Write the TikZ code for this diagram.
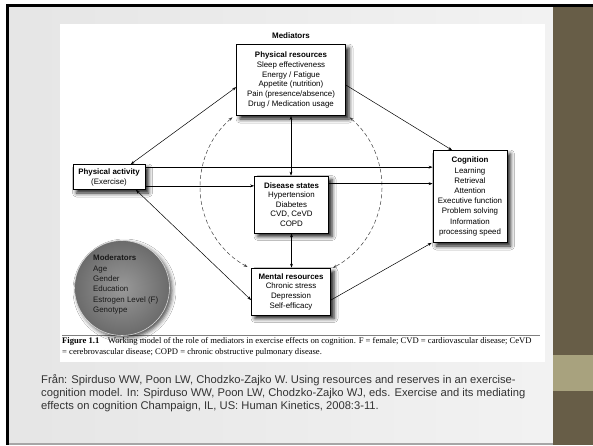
\documentclass[tikz,border=0pt]{standalone}
\usepackage{fontspec}
\setmainfont{Liberation Sans}
\newfontfamily\capfont{Liberation Serif}
\usetikzlibrary{arrows.meta,shadows.blur,calc}
\definecolor{panelbrown}{HTML}{675D47}
\definecolor{panelolive}{HTML}{A8A27E}
\begin{document}
\begin{tikzpicture}[x=1pt,y=-1pt,
  box/.style={draw=black, line width=0.7pt, fill=white, align=center, inner sep=0pt,
    font=\fontsize{7.9}{9.9}\selectfont,
    blur shadow={shadow xshift=3.5pt, shadow yshift=-3.5pt, shadow blur radius=4pt, shadow opacity=90}},
  conn/.style={line width=0.5pt, -{Stealth[length=4pt,width=2.8pt]}},
  dconn/.style={line width=0.5pt, {Stealth[length=4pt,width=2.8pt]}-{Stealth[length=4pt,width=2.8pt]}},
  darc/.style={dconn, dash pattern=on 4pt off 2.5pt, draw=black!75},
]
\useasboundingbox (0,0) rectangle (593,445);
% slide background
\fill[white] (0,0) rectangle (593,445);
\shade[left color=black!10, middle color=white, right color=black!5] (9,7) rectangle (553,443);
\fill[panelbrown] (553,7) rectangle (593,445);
\fill[panelolive] (553,355) rectangle (593,391);
\fill[black] (6,4) rectangle (593,7);
\fill[black] (6,4) rectangle (9,445);
\fill[black!35] (9,443) rectangle (553,445);
% figure area
\fill[white] (60,24) rectangle (545,362);
% caption rule
\draw[black!50, line width=0.4pt] (62,335) -- (540,335);

% nodes
\node[font=\fontsize{8}{9}\selectfont\bfseries] (medlabel) at (291,36) {Mediators};
\node[box, minimum width=109pt, minimum height=71pt] (pr) at (291,80)
  {\textbf{Physical resources}\\Sleep effectiveness\\Energy / Fatigue\\Appetite (nutrition)\\Pain (presence/absence)\\Drug / Medication usage};
\node[box, minimum width=72pt, minimum height=25pt] (pa) at (109,177)
  {\textbf{Physical activity}\\(Exercise)};
\node[box, minimum width=74pt, minimum height=57pt, font=\fontsize{7.9}{9.6}\selectfont] (ds) at (291.5,204.5)
  {\textbf{Disease states}\\Hypertension\\Diabetes\\CVD, CeVD\\COPD};
\node[box, minimum width=74pt, minimum height=92pt, font=\fontsize{7.9}{10.2}\selectfont] (cog) at (470,196.5)
  {\textbf{Cognition}\\Learning\\Retrieval\\Attention\\Executive function\\Problem solving\\Information\\processing speed};
\node[box, minimum width=79pt, minimum height=47pt, font=\fontsize{7.9}{9.7}\selectfont] (mr) at (291,291.5)
  {\textbf{Mental resources}\\Chronic stress\\Depression\\Self-efficacy};
\node[circle, minimum size=95pt, draw=black!15, line width=0.6pt, shade, inner color=black!40, outer color=black!58,
  blur shadow={shadow xshift=2.5pt, shadow yshift=-2.5pt, shadow blur radius=4pt, shadow opacity=70}] (mod) at (122,288) {};
\node[anchor=north west, align=left, inner sep=0pt, text=black!90, font=\fontsize{7.9}{10.3}\selectfont] (modtext) at (93,255)
  {\textbf{Moderators}\\Age\\Gender\\Education\\Estrogen Level (F)\\Genotype};

% connectors
\coordinate (dc) at (291,187);
\draw[darc] ($(dc)+(230:91)$) arc[start angle=230, end angle=118.5, radius=91];
\draw[darc] ($(dc)+(-50:91)$) arc[start angle=-50, end angle=62.6, radius=91];

\draw[dconn] ($(pa.north west)!0.8!(pa.north east)$) -- ($(pr.north west)!0.6!(pr.south west)$);
\draw[dconn] ($(pa.south west)!0.87!(pa.south east)$) -- ($(mr.north west)!0.68!(mr.south west)$);
\coordinate (pa1) at ([yshift=-3pt]pa.north east);
\coordinate (pa2) at ([yshift=4pt]pa.south east);
\coordinate (ds1) at ([yshift=-8pt]ds.north east);
\draw[conn] (pa1) -- (pa1 -| cog.west);
\draw[conn] (pa2) -- (pa2 -| ds.west);
\draw[conn] (ds1) -- (ds1 -| cog.west);
\draw[dconn] (pr.south) -- (pr.south |- ds.north);
\draw[dconn] (ds.south) -- (ds.south |- mr.north);
\draw[conn] ($(pr.north east)!0.57!(pr.south east)$) -- ($(cog.north west)!0.26!(cog.north east)$);
\draw[conn] ($(mr.north east)!0.68!(mr.south east)$) -- ([xshift=-1pt]cog.south west);

% caption
\node[anchor=north west, inner sep=0pt, align=left, font=\capfont\fontsize{8.6}{11}\selectfont] (cap) at (62,337)
  {\textbf{Figure 1.1}\quad Working model of the role of mediators in exercise effects on cognition. F = female; CVD = cardiovascular disease; CeVD\\= cerebrovascular disease; COPD = chronic obstructive pulmonary disease.};

% citation
\node[anchor=north west, inner sep=0pt, align=left, text=black!80, font=\fontsize{11.2}{13}\selectfont] (cite) at (41,374)
  {Från: Spirduso WW, Poon LW, Chodzko-Zajko W. Using resources and reserves in an exercise-\\cognition model. In: Spirduso WW, Poon LW, Chodzko-Zajko WJ, eds. Exercise and its mediating\\effects on cognition Champaign, IL, US: Human Kinetics, 2008:3-11.};
\end{tikzpicture}
\end{document}
